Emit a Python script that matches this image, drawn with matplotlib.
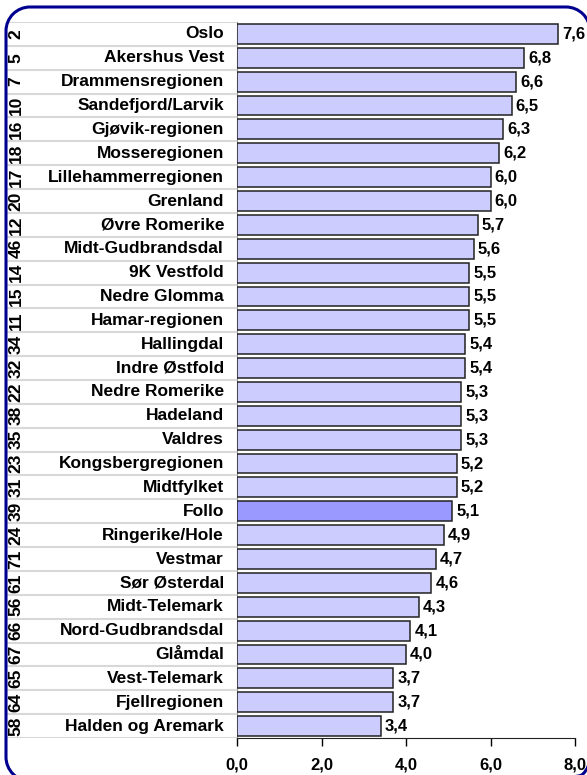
import matplotlib
matplotlib.use("Agg")
import matplotlib.pyplot as plt
from matplotlib.path import Path
from matplotlib.patches import PathPatch
from matplotlib.transforms import IdentityTransform, Affine2D

plt.rcParams['font.family'] = ['Liberation Sans', 'DejaVu Sans']
plt.rcParams['font.weight'] = 'bold'

regions = ['Oslo', 'Akershus Vest', 'Drammensregionen', 'Sandefjord/Larvik',
           'Gjøvik-regionen', 'Mosseregionen', 'Lillehammerregionen', 'Grenland',
           'Øvre Romerike', 'Midt-Gudbrandsdal', '9K Vestfold', 'Nedre Glomma',
           'Hamar-regionen', 'Hallingdal', 'Indre Østfold', 'Nedre Romerike',
           'Hadeland', 'Valdres', 'Kongsbergregionen', 'Midtfylket', 'Follo',
           'Ringerike/Hole', 'Vestmar', 'Sør Østerdal', 'Midt-Telemark',
           'Nord-Gudbrandsdal', 'Glåmdal', 'Vest-Telemark', 'Fjellregionen',
           'Halden og Aremark']
ranks = [2, 5, 7, 10, 16, 18, 17, 20, 12, 46, 14, 15, 11, 34, 32, 22, 38, 35,
         23, 31, 39, 24, 71, 61, 56, 66, 67, 65, 64, 58]
values = [7.6, 6.8, 6.6, 6.5, 6.3, 6.2, 6.0, 6.0, 5.7, 5.6, 5.5, 5.5, 5.5, 5.4,
          5.4, 5.3, 5.3, 5.3, 5.2, 5.2, 5.1, 4.9, 4.7, 4.6, 4.3, 4.1, 4.0, 3.7,
          3.7, 3.4]
highlight = 'Follo'
xticks = [0, 2, 4, 6, 8]

W, H = 587, 775
fig = plt.figure(figsize=(W / 100, H / 100), dpi=100, facecolor='white')


def rounded_rect(x0, y0, x1, y1, r):
    # corner arcs joined into one closed outline
    verts, codes = [], []
    corners = [(x1 - r, y1 - r, 0, 90), (x0 + r, y1 - r, 90, 180),
               (x0 + r, y0 + r, 180, 270), (x1 - r, y0 + r, 270, 360)]
    for cx, cy, a0, a1 in corners:
        arc = Path.arc(a0, a1).transformed(Affine2D().scale(r).translate(cx, cy))
        v = list(arc.vertices)
        c = list(arc.codes)
        if verts:
            c[0] = Path.LINETO
        verts += v
        codes += c
    verts.append(verts[0])
    codes.append(Path.CLOSEPOLY)
    return Path(verts, codes)


# navy frame in pixel units (origin bottom left)
frame = PathPatch(rounded_rect(6, -6, 590, H - 7, 24), facecolor='none',
                  edgecolor='#000090', linewidth=2.2, zorder=5)
frame.set_transform(IdentityTransform())
fig.patches.append(frame)

top, bottom = 22, 738
ax = fig.add_axes([237 / W, 1 - bottom / H, (575 - 237) / W, (bottom - top) / H])
lab = fig.add_axes([7 / W, 1 - bottom / H, (237 - 7) / W, (bottom - top) / H])

fs = 12
n = len(regions)
ypos = list(range(n))
colors = ['#9999FF' if r == highlight else '#CCCCFF' for r in regions]
ax.barh(ypos, values, height=0.83, color=colors, edgecolor='#222222',
        linewidth=1.1, zorder=3)
for y, v in zip(ypos, values):
    ax.annotate(f"{v:.1f}".replace('.', ','), (v, y), xytext=(3, 0),
                textcoords='offset points', va='center', ha='left',
                fontsize=fs, fontweight='bold')

ax.set_xlim(0, 8)
ax.set_ylim(n - 0.5, -0.5)
ax.set_xticks(xticks)
ax.set_xticklabels([f"{t:.1f}".replace('.', ',') for t in xticks],
                   fontsize=fs, fontweight='bold')
ax.tick_params(axis='x', direction='out', length=6, width=1, pad=8)
ax.set_yticks([])
ax.patch.set_alpha(0)
for s in ['top', 'right']:
    ax.spines[s].set_visible(False)
ax.spines['left'].set_color('#999999')
ax.spines['bottom'].set_color('#222222')

# label column: rank numbers, region names, row separators
lab.set_xlim(0, 230)
lab.set_ylim(n - 0.5, -0.5)
lab.axis('off')
lab.patch.set_alpha(0)
for k in range(n + 1):
    lab.axhline(k - 0.5, color='#d8d8d8', linewidth=1.5)
for y, r, name in zip(ypos, ranks, regions):
    lab.text(9, y, str(r), rotation=90, ha='center', va='center',
             fontsize=12.5, fontweight='bold')
    lab.text(217, y, name, ha='right', va='center', fontsize=12.5,
             fontweight='bold')

fig.savefig('out.png', dpi=100)
